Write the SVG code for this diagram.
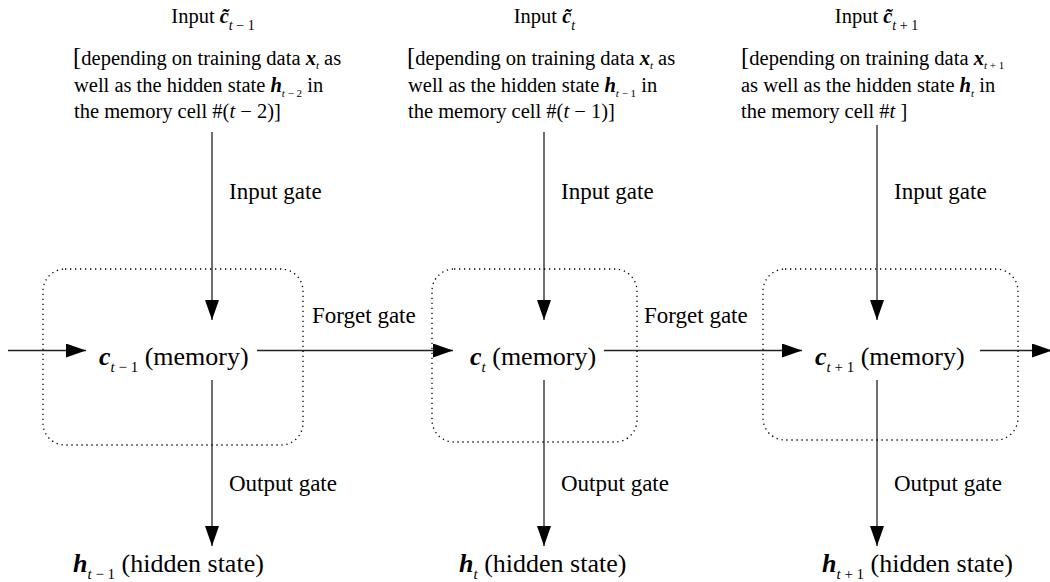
<svg xmlns="http://www.w3.org/2000/svg" width="1050" height="582" viewBox="0 0 1050 582">
<defs>
<style>
text{font-family:"Liberation Serif","Times New Roman",serif;fill:#000}
.top{font-size:20.5px}
.gate{font-size:23px}
.mem{font-size:26px}
.bi{font-weight:bold;font-style:italic}
.it{font-style:italic}
.s14{font-size:14px}
.s11{font-size:11px}
.s15{font-size:15px}
.brk{font-size:25px}
.cell{fill:none;stroke:#000;stroke-width:1.3;stroke-dasharray:1.3 3.7}
.conn{fill:none;stroke:#222;stroke-width:1.3}
</style>
<marker id="ah" viewBox="0 0 20 14" markerWidth="20" markerHeight="14" refX="20" refY="7" orient="auto" markerUnits="userSpaceOnUse">
<path d="M0,0 L20,7 L0,14 Z" fill="#000"/>
</marker>
</defs>
<rect width="1050" height="582" fill="#fff"/>

<g id="connectors">
<path class="conn" d="M8,350.5 H86" marker-end="url(#ah)"/>
<path class="conn" d="M257,350.5 H453" marker-end="url(#ah)"/>
<path class="conn" d="M604,350.5 H802" marker-end="url(#ah)"/>
<path class="conn" d="M980,350.5 H1052" marker-end="url(#ah)"/>
<path class="conn" d="M212,132 V320" marker-end="url(#ah)"/>
<path class="conn" d="M544,132 V320" marker-end="url(#ah)"/>
<path class="conn" d="M877,125 V320" marker-end="url(#ah)"/>
<path class="conn" d="M212,380 V546" marker-end="url(#ah)"/>
<path class="conn" d="M544,380 V546" marker-end="url(#ah)"/>
<path class="conn" d="M877,380 V546" marker-end="url(#ah)"/>
<text class="gate" x="229" y="199">Input gate</text>
<text class="gate" x="561" y="199">Input gate</text>
<text class="gate" x="894" y="199">Input gate</text>
<text class="gate" x="312" y="323">Forget gate</text>
<text class="gate" x="644" y="323">Forget gate</text>
<text class="gate" x="229" y="491">Output gate</text>
<text class="gate" x="561" y="491">Output gate</text>
<text class="gate" x="894" y="491">Output gate</text>
</g>

<g id="input1">
<text class="top" x="213" y="23" text-anchor="middle">Input <tspan class="bi">c̃</tspan><tspan class="s14 it" dy="7">t</tspan><tspan class="s14" dy="0"> − 1</tspan></text>
<text class="top" x="73" y="65"><tspan class="brk">[</tspan>depending on training data <tspan class="bi">x</tspan><tspan class="s11 it" dy="4">t</tspan><tspan dy="-4"> as</tspan></text>
<text class="top" x="74" y="92">well as the hidden state <tspan class="bi">h</tspan><tspan class="s11" dy="5"><tspan class="it">t</tspan> − 2</tspan><tspan dy="-5"> in</tspan></text>
<text class="top" x="74" y="118">the memory cell #(<tspan class="it">t</tspan> − 2)]</text>
</g>

<g id="input2">
<text class="top" x="544.5" y="23" text-anchor="middle">Input <tspan class="bi">c̃</tspan><tspan class="s14 it" dy="7">t</tspan></text>
<text class="top" x="407" y="65"><tspan class="brk">[</tspan>depending on training data <tspan class="bi">x</tspan><tspan class="s11 it" dy="4">t</tspan><tspan dy="-4"> as</tspan></text>
<text class="top" x="408" y="92">well as the hidden state <tspan class="bi">h</tspan><tspan class="s11" dy="5"><tspan class="it">t</tspan> − 1</tspan><tspan dy="-5"> in</tspan></text>
<text class="top" x="408" y="118">the memory cell #(<tspan class="it">t</tspan> − 1)]</text>
</g>

<g id="input3">
<text class="top" x="876.5" y="23" text-anchor="middle">Input <tspan class="bi">c̃</tspan><tspan class="s14 it" dy="7">t</tspan><tspan class="s14" dy="0"> + 1</tspan></text>
<text class="top" x="741" y="65"><tspan class="brk">[</tspan>depending on training data <tspan class="bi">x</tspan><tspan class="s11" dy="4"><tspan class="it">t</tspan> + 1</tspan></text>
<text class="top" x="741" y="92">as well as the hidden state <tspan class="bi">h</tspan><tspan class="s11 it" dy="5">t</tspan><tspan dy="-5"> in</tspan></text>
<text class="top" x="741" y="118">the memory cell #<tspan class="it">t</tspan> ]</text>
</g>

<g id="cell1">
<rect class="cell" x="43" y="269" width="260" height="176" rx="22"/>
<text class="mem" x="99" y="365"><tspan class="bi">c</tspan><tspan class="s15" dy="7"><tspan class="it">t</tspan> − 1</tspan><tspan dy="-7"> (memory)</tspan></text>
</g>

<g id="cell2">
<rect class="cell" x="432" y="269" width="205" height="173" rx="22"/>
<text class="mem" x="470" y="365"><tspan class="bi">c</tspan><tspan class="s15 it" dy="7">t</tspan><tspan dy="-7"> (memory)</tspan></text>
</g>

<g id="cell3">
<rect class="cell" x="763" y="269" width="255" height="171" rx="22"/>
<text class="mem" x="815" y="365"><tspan class="bi">c</tspan><tspan class="s15" dy="7"><tspan class="it">t</tspan> + 1</tspan><tspan dy="-7"> (memory)</tspan></text>
</g>

<g id="hidden1">
<text class="mem" x="73" y="572"><tspan class="bi">h</tspan><tspan class="s15" dy="7"><tspan class="it">t</tspan> − 1</tspan><tspan dy="-7"> (hidden state)</tspan></text>
</g>
<g id="hidden2">
<text class="mem" x="459" y="572"><tspan class="bi">h</tspan><tspan class="s15 it" dy="7">t</tspan><tspan dy="-7"> (hidden state)</tspan></text>
</g>
<g id="hidden3">
<text class="mem" x="822" y="572"><tspan class="bi">h</tspan><tspan class="s15" dy="7"><tspan class="it">t</tspan> + 1</tspan><tspan dy="-7"> (hidden state)</tspan></text>
</g>
</svg>
